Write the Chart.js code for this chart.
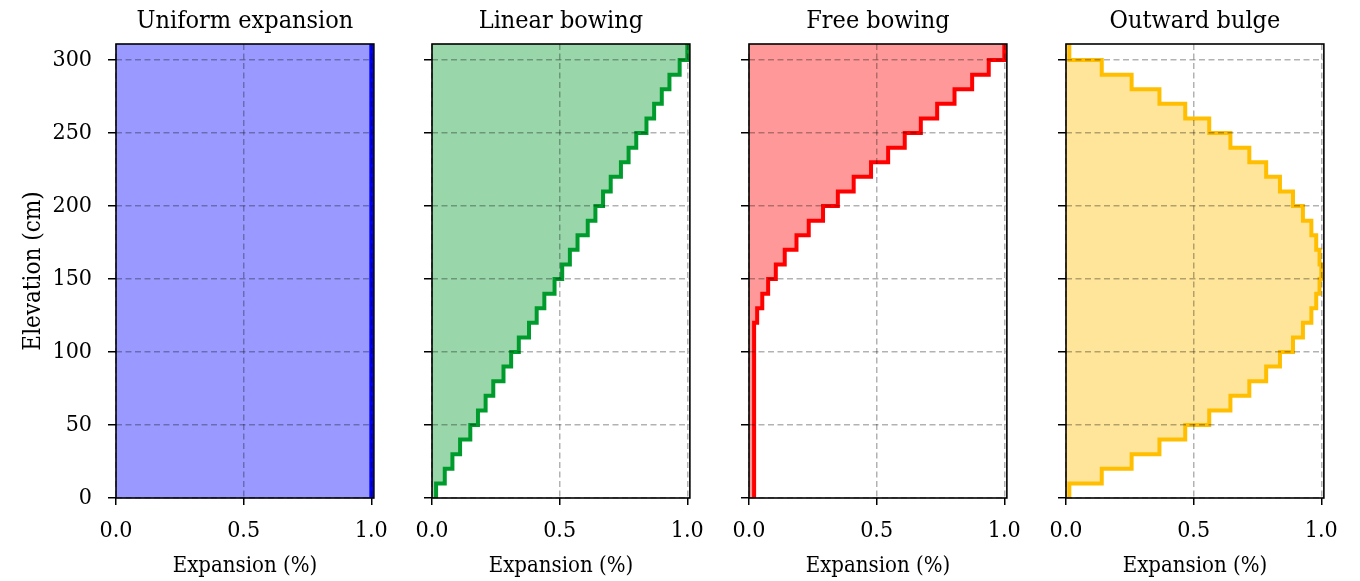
<!DOCTYPE html>
<html>
<head>
<meta charset="utf-8">
<script src="https://cdn.jsdelivr.net/npm/chart.js@4.4.1/dist/chart.umd.min.js"></script>
<style>
  body { margin: 0; background: #fff; width: 1360px; height: 581px; position: relative; overflow: hidden; }
  canvas { position: absolute; top: 0; }
</style>
</head>
<body>
<canvas id="panel0"></canvas>
<canvas id="panel1"></canvas>
<canvas id="panel2"></canvas>
<canvas id="panel3"></canvas>
<script>
// Elevation bin edges (cm), one value per step of the profile
const elevationEdges = [0, 10, 20, 30, 40, 50, 60, 70, 80, 90, 100, 110, 120, 130, 140, 150,
  160, 170, 180, 190, 200, 210, 220, 230, 240, 250, 260, 270, 280, 290, 300, 311];

const panelTitles = ['Uniform expansion', 'Linear bowing', 'Free bowing', 'Outward bulge'];

// Expansion (%) for each elevation bin, bottom to top
const uniformExpansion = [1.0, 1.0, 1.0, 1.0, 1.0, 1.0, 1.0, 1.0, 1.0, 1.0, 1.0, 1.0, 1.0, 1.0, 1.0, 1.0,
  1.0, 1.0, 1.0, 1.0, 1.0, 1.0, 1.0, 1.0, 1.0, 1.0, 1.0, 1.0, 1.0, 1.0, 1.0];
const linearBowing = [0.016, 0.05, 0.08, 0.11, 0.15, 0.18, 0.21, 0.24, 0.28, 0.31, 0.34, 0.38, 0.41, 0.44, 0.48, 0.51,
  0.54, 0.57, 0.61, 0.64, 0.67, 0.70, 0.74, 0.77, 0.80, 0.84, 0.87, 0.90, 0.93, 0.97, 1.0];
const freeBowing = [0.02, 0.02, 0.02, 0.02, 0.02, 0.02, 0.02, 0.02, 0.02, 0.02, 0.02, 0.02, 0.032, 0.052, 0.075, 0.105,
  0.14, 0.186, 0.234, 0.29, 0.348, 0.41, 0.478, 0.545, 0.61, 0.673, 0.737, 0.805, 0.874, 0.939, 1.0];
const outwardBulge = [0.013, 0.14, 0.257, 0.366, 0.467, 0.561, 0.644, 0.718, 0.784, 0.838, 0.889, 0.928, 0.961, 0.98, 0.993, 1.0,
  0.993, 0.98, 0.961, 0.928, 0.889, 0.838, 0.784, 0.718, 0.644, 0.561, 0.467, 0.366, 0.257, 0.14, 0.013];

const expansionTicks = [0, 0.5, 1.0];
const elevationTicks = [0, 50, 100, 150, 200, 250, 300];

const series = [uniformExpansion, linearBowing, freeBowing, outwardBulge];
const lineColors = ['rgb(0,0,255)', 'rgb(0,155,45)', 'rgb(255,0,0)', 'rgb(255,191,0)'];
const fillColors = ['rgba(0,0,255,0.4)', 'rgba(0,155,45,0.4)', 'rgba(255,0,0,0.4)', 'rgba(255,191,0,0.4)'];

// layout in page pixels
const plotLefts = [116, 432, 749, 1066];
const plotWidth = 260;
const plotTop = 44;
const xAxisHeight = 83;
const canvasHeight = 581;
const fontFamily = '"DejaVu Serif Condensed", "DejaVu Serif", serif';

Chart.defaults.font.family = fontFamily;
Chart.defaults.color = '#000';

// step profile: each bin becomes a vertical segment at its value
function stepPoints(values) {
  const pts = [];
  values.forEach(function(v, i) {
    pts.push({ x: v, y: elevationEdges[i] });
    pts.push({ x: v, y: elevationEdges[i + 1] });
  });
  return pts;
}

// panel title and the box round the plot
const panelFrame = {
  id: 'panelFrame',
  afterDraw(chart, args, opts) {
    const { ctx, chartArea } = chart;
    ctx.save();
    ctx.strokeStyle = '#000';
    ctx.lineWidth = 1.6;
    ctx.strokeRect(chartArea.left, chartArea.top, chartArea.right - chartArea.left, chartArea.bottom - chartArea.top);
    ctx.font = '25px ' + fontFamily;
    ctx.fillStyle = '#000';
    ctx.textAlign = 'center';
    ctx.textBaseline = 'alphabetic';
    ctx.fillText(opts.text, (chartArea.left + chartArea.right) / 2, chartArea.top - 16);
    ctx.restore();
  }
};

panelTitles.forEach(function(title, i) {
  const first = i === 0;
  const yWidth = first ? 116 : 20;
  const padLeft = first ? 0 : 12;
  const padRight = 24;
  const canvas = document.getElementById('panel' + i);
  canvas.width = padLeft + yWidth + plotWidth + padRight;
  canvas.height = canvasHeight;
  canvas.style.left = (plotLefts[i] - yWidth - padLeft) + 'px';

  new Chart(canvas, {
    type: 'line',
    data: {
      datasets: [{
        data: stepPoints(series[i]),
        borderColor: lineColors[i],
        backgroundColor: fillColors[i],
        borderWidth: 4,
        borderJoinStyle: 'miter',
        pointRadius: 0,
        tension: 0,
        fill: 'origin'
      }]
    },
    options: {
      indexAxis: 'y',
      responsive: false,
      animation: false,
      layout: { padding: { top: plotTop, left: padLeft, right: padRight, bottom: 0 } },
      plugins: {
        legend: { display: false },
        tooltip: { enabled: false },
        panelFrame: { text: title }
      },
      scales: {
        x: {
          type: 'linear',
          min: 0,
          max: 1.01,
          afterBuildTicks: function(scale) { scale.ticks = expansionTicks.map(v => ({ value: v })); },
          afterFit: function(scale) { scale.height = xAxisHeight; },
          ticks: {
            font: { size: 23 },
            padding: 12,
            maxRotation: 0,
            callback: v => Number(v).toFixed(1)
          },
          grid: {
            z: 1,
            color: 'rgba(0,0,0,0.3)',
            lineWidth: 1.5,
            tickColor: '#000',
            tickWidth: 1.5,
            tickLength: 7,
            tickBorderDash: []
          },
          border: { display: false, dash: [6, 3.5] },
          title: {
            display: true,
            text: 'Expansion (%)',
            font: { size: 22 },
            padding: { top: 0, bottom: 2 }
          }
        },
        y: {
          type: 'linear',
          min: 0,
          max: 311,
          afterBuildTicks: function(scale) { scale.ticks = elevationTicks.map(v => ({ value: v })); },
          afterFit: function(scale) { scale.width = yWidth; },
          ticks: {
            font: { size: 23 },
            padding: 16,
            callback: v => first ? String(v) : ''
          },
          grid: {
            z: 1,
            color: 'rgba(0,0,0,0.3)',
            lineWidth: 1.5,
            tickColor: '#000',
            tickWidth: 1.5,
            tickLength: 8,
            tickBorderDash: []
          },
          border: { display: false, dash: [6, 3.5] },
          title: {
            display: first,
            text: 'Elevation (cm)',
            font: { size: 24 },
            padding: { top: 19, bottom: 0 }
          }
        }
      }
    },
    plugins: [panelFrame]
  });
});
</script>
</body>
</html>
